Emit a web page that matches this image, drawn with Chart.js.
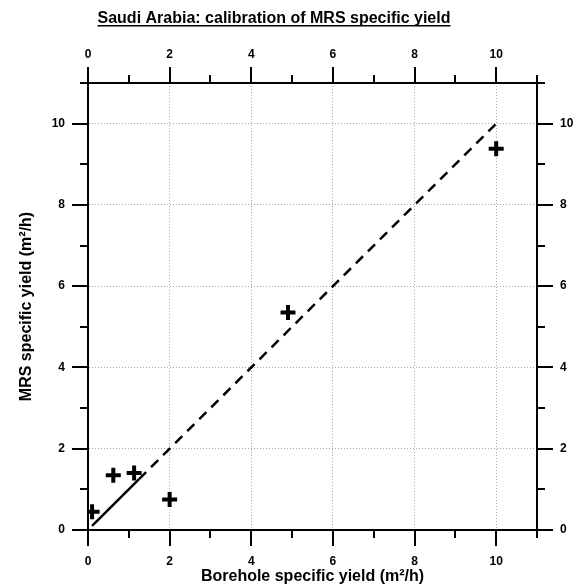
<!DOCTYPE html>
<html>
<head>
<meta charset="utf-8">
<script src="https://cdn.jsdelivr.net/npm/chart.js@4/dist/chart.umd.min.js"></script>
<style>
  html, body { margin: 0; padding: 0; background: #fff; }
  #wrap { width: 584px; height: 587px; }
</style>
</head>
<body>
<div id="wrap"><canvas id="c" width="584" height="587"></canvas></div>
<script>
// Observed borehole vs. MRS specific yields (m²/h)
const boreholeYield = [0.1, 0.62, 1.13, 2.0, 4.9, 10.0];
const mrsYield      = [0.45, 1.35, 1.4, 0.75, 5.35, 9.38];

// 1:1 calibration line: solid over the measured range, dashed beyond it
const calibSolidX  = [0.1, 1.25];
const calibDashedX = [1.25, 10];

// Axis range and labelled ticks
const axisMin = 0;
const axisMax = 11;
const tickLabels = [0, 2, 4, 6, 8, 10];

const titleText = 'Saudi Arabia: calibration of MRS specific yield';
const xTitle = 'Borehole specific yield (m²/h)';
const yTitle = 'MRS specific yield (m²/h)';

const FONT = "'Liberation Sans', Arial, Helvetica, sans-serif";

const toPoints = (xs, ys) => xs.map((x, i) => ({ x, y: ys[i] }));

// Outward tick marks: long at labelled values, short in between
const tickMarks = {
  id: 'tickMarks',
  afterDraw(chart) {
    const ctx = chart.ctx;
    ctx.save();
    ctx.strokeStyle = '#000';
    ctx.lineWidth = 2;
    ctx.lineCap = 'butt';
    for (const id of ['x', 'x2', 'y', 'y2']) {
      const s = chart.scales[id];
      for (let v = axisMin; v <= axisMax; v++) {
        const len = tickLabels.includes(v) ? 16 : 8;
        const p = Math.round(s.getPixelForValue(v));
        ctx.beginPath();
        if (id === 'x') { ctx.moveTo(p, s.top); ctx.lineTo(p, s.top + len); }
        else if (id === 'x2') { ctx.moveTo(p, s.bottom); ctx.lineTo(p, s.bottom - len); }
        else if (id === 'y') { ctx.moveTo(s.right, p); ctx.lineTo(s.right - len, p); }
        else { ctx.moveTo(s.left, p); ctx.lineTo(s.left + len, p); }
        ctx.stroke();
      }
    }
    ctx.restore();
  }
};

// Underlined heading
const heading = {
  id: 'heading',
  afterDraw(chart) {
    const ctx = chart.ctx;
    ctx.save();
    ctx.font = 'bold 16px ' + FONT;
    ctx.fillStyle = '#000';
    ctx.textAlign = 'center';
    ctx.textBaseline = 'alphabetic';
    const cx = 274, by = 23;
    ctx.fillText(titleText, cx, by);
    const w = ctx.measureText(titleText).width;
    ctx.fillRect(cx - w / 2, by + 2, w, 1.5);
    ctx.restore();
  }
};

const fixSize = (w, h) => (scale) => {
  if (w !== null) scale.width = w;
  if (h !== null) scale.height = h;
};

const gridColor = (ctx) => {
  const v = ctx.tick && ctx.tick.value;
  return (tickLabels.includes(v) && v > axisMin) ? '#a8a8a8' : 'rgba(0,0,0,0)';
};

const tickFont = { family: FONT, size: 12, weight: 'bold' };
const labelCb = (v) => tickLabels.includes(v) ? String(v) : '';

function axis(position, padding, extra) {
  return Object.assign({
    type: 'linear',
    display: true,
    position,
    min: axisMin,
    max: axisMax,
    ticks: {
      stepSize: 1,
      autoSkip: false,
      maxRotation: 0,
      font: tickFont,
      color: '#000',
      padding,
      callback: labelCb
    },
    grid: {
      drawTicks: false,
      drawOnChartArea: false,
      color: gridColor,
      lineWidth: 1
    },
    border: { display: true, color: '#000', width: 2, dash: [1, 2] }
  }, extra);
}

const xAxis = axis('bottom', 24, {
  afterFit: fixSize(null, 57),
  title: { display: true, text: xTitle, color: '#000',
           font: { family: FONT, size: 16, weight: 'bold' }, padding: { top: 0, bottom: 1 } }
});
xAxis.grid.drawOnChartArea = true;

const yAxis = axis('left', 23, {
  afterFit: fixSize(88, null),
  title: { display: true, text: yTitle, color: '#000',
           font: { family: FONT, size: 16, weight: 'bold' }, padding: { top: 17, bottom: 0 } }
});
yAxis.grid.drawOnChartArea = true;

const x2Axis = axis('top', 21, { afterFit: fixSize(null, 83) });
const y2Axis = axis('right', 23, { afterFit: fixSize(47, null) });

new Chart(document.getElementById('c'), {
  type: 'scatter',
  data: {
    datasets: [
      {
        label: 'Measurements',
        data: toPoints(boreholeYield, mrsYield),
        pointStyle: 'cross',
        pointRadius: 7.5,
        pointHoverRadius: 7.5,
        pointBorderWidth: 4,
        pointHoverBorderWidth: 4,
        borderColor: '#000',
        backgroundColor: '#000',
        showLine: false
      },
      {
        label: 'Calibration',
        data: toPoints(calibSolidX, calibSolidX),
        showLine: true,
        borderColor: '#000',
        borderWidth: 2.5,
        pointRadius: 0,
        fill: false
      },
      {
        label: 'Calibration (extrapolated)',
        data: toPoints(calibDashedX, calibDashedX),
        showLine: true,
        borderColor: '#000',
        borderWidth: 2.5,
        borderDash: [10, 7],
        pointRadius: 0,
        fill: false
      }
    ]
  },
  options: {
    responsive: false,
    devicePixelRatio: 1,
    animation: false,
    layout: { padding: 0 },
    plugins: {
      legend: { display: false },
      title: { display: false },
      tooltip: { enabled: false }
    },
    scales: { x: xAxis, x2: x2Axis, y: yAxis, y2: y2Axis }
  },
  plugins: [tickMarks, heading]
});
</script>
</body>
</html>
